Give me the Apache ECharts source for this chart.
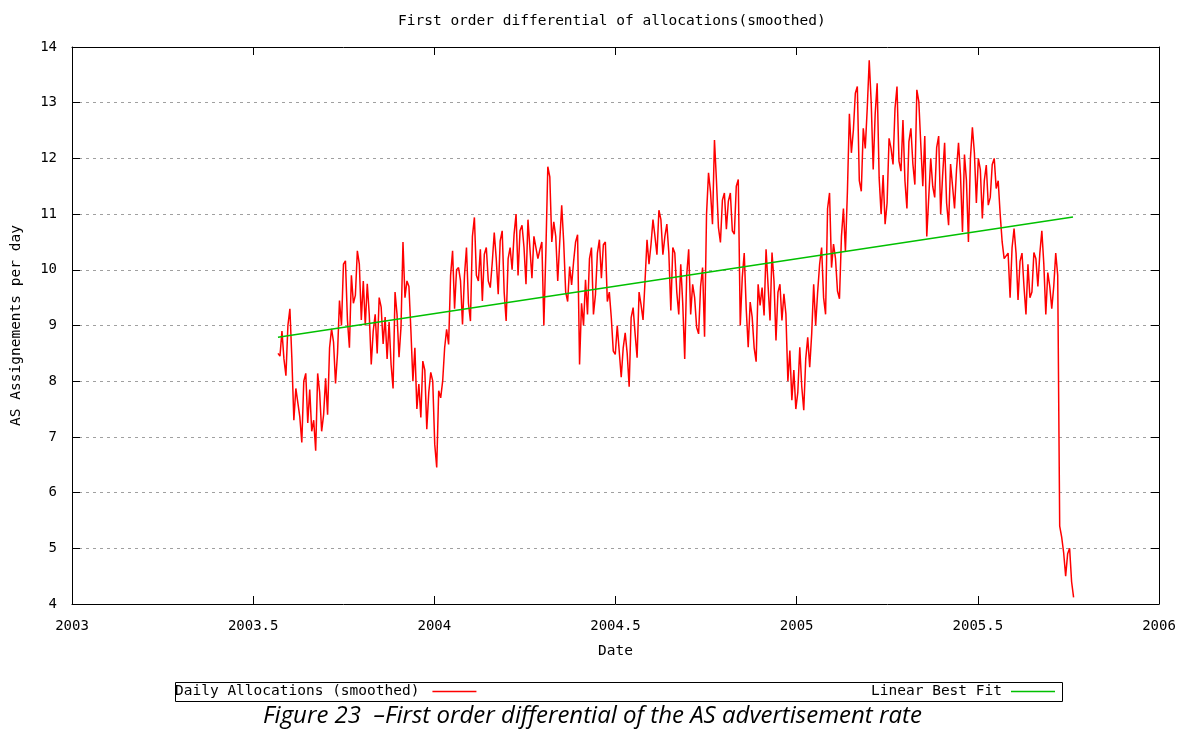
<!DOCTYPE html>
<html><head><meta charset="utf-8">
<script src="https://cdn.jsdelivr.net/npm/echarts@6/dist/echarts.min.js"></script>
<style>html,body{margin:0;padding:0;background:#fff}#c{width:1185px;height:732px}</style>
</head><body><div id="c"></div>
<script>
// ---- data ----
const titleText = 'First order differential of allocations(smoothed)';
const captionText = 'Figure 23  \u2013First order differential of the AS advertisement rate';
const seriesNames = ['Daily Allocations (smoothed)', 'Linear Best Fit'];
const xStart = 2003.5685;      // decimal year of first sample
const stepDays = 2;            // days between samples
const vals2003 = [8.5,8.45,8.9,8.4,8.1,9.0,9.3,8.4,7.3,7.87,7.9,7.36,6.9,8.0,8.14,7.25,7.85,7.1,7.3,6.75,
  8.14,7.8,7.1,7.4,8.05,7.4,8.6,8.94,8.7,7.96,8.5,9.45,9.0,10.1,10.16,9.1,8.6,9.9,9.4,9.54,
  10.34,10.1,9.1,9.8,9.0,9.75,9.2,8.3,8.9,9.2,8.5,9.5,9.33,8.67,9.15,8.4,9.06,8.3,7.87,9.6,
  9.2,8.43,8.97,10.5,9.5,9.8,9.7,8.9,8.0,8.6,7.5,7.95,7.35,8.36,8.2,7.14,7.8,8.16,8.0];
const vals2004 = [6.87,6.45,7.83,7.7,8.0,8.6,8.93,8.66,9.9,10.34,9.3,10.0,10.04,9.8,9.02,9.9,10.4,9.4,9.08,10.6,
  10.94,9.9,9.8,10.37,9.44,10.28,10.4,9.8,9.68,10.13,10.67,10.2,9.56,10.52,10.7,9.6,9.08,10.2,10.4,10.0,
  10.64,11.0,9.9,10.7,10.8,10.4,9.74,10.9,10.88,9.85,10.6,10.4,10.2,10.36,10.5,9.0,10.3,11.85,11.67,10.5,
  10.86,10.6,9.8,10.5,11.16,10.5,9.6,9.43,10.06,9.73,10.15,10.5,10.63,8.3,9.4,9.0,9.82,9.2,10.2,10.4,
  9.2,9.55,10.3,10.54,9.85,10.45,10.5,9.43,9.6,9.14,8.54,8.48,9.0,9.0,8.07,8.6,8.87,8.5,7.9,9.14,
  9.32,8.85,8.42,9.6,9.37,9.1,9.8,10.54,10.1,10.45,10.9,10.6,10.27,11.07,10.9,10.27,10.6,10.82,10.3,9.27,
  10.4,10.3,9.6,9.2,10.1,9.4,8.4,9.9,10.37,9.2,9.74,9.5,8.97,8.85,9.7,10.04,8.8,11.0,11.74,11.4,
  10.82,12.33,11.6,10.76,10.49,11.25,11.38,10.73,11.23,11.38,10.7,10.64,11.5,11.62,9.0,9.86,10.3,9.3,8.61,9.42,
  9.15,8.6,8.35,9.74,9.36,9.68,9.18,10.37,10.4,9.09,10.31,9.8,8.73,9.6,9.74,9.09,9.57,9.21,8.0,8.55,
  7.66,8.2,7.5];
const vals2005 = [7.8,8.61,7.9,7.48,8.4,8.79,8.25,8.85,9.74,9.0,9.6,10.1,10.4,9.5,9.2,11.1,11.38,10.04,10.46,10.2,
  9.62,9.48,10.6,11.1,10.33,11.4,12.8,12.1,12.5,13.17,13.29,11.6,11.41,12.54,12.18,12.9,13.76,13.0,11.8,12.8,
  13.35,11.65,11.0,11.7,10.82,11.2,12.36,12.18,11.89,12.9,13.29,11.95,11.77,12.69,11.6,11.1,12.3,12.54,11.9,11.53,
  13.23,13.02,12.24,11.5,12.4,10.6,11.3,12.0,11.5,11.3,12.2,12.4,11.0,11.7,12.28,11.2,10.8,11.9,11.5,11.1,
  11.8,12.28,11.7,10.68,12.07,11.6,10.5,12.0,12.56,12.1,11.2,12.0,11.8,10.92,11.6,11.88,11.16,11.3,11.89,12.0,
  11.46,11.6,11.0,10.5,10.2,10.2,10.3,9.5,10.4,10.74,10.3,9.46,10.15,10.3,9.7,9.2,10.1,9.5,9.6,10.31,
  10.2,9.7,10.3,10.7,10.1,9.2,9.95,9.7,9.3,9.7,10.3,9.9,5.4,5.2,4.92,4.5,4.9,5.0,4.4,4.12];
const fitX = [2003.5685, 2005.7627];
const fitY = [8.79, 10.95];
const xTickLabels = ['2003','2003.5','2004','2004.5','2005','2005.5','2006'];
const yTickLabels = ['4','5','6','7','8','9','10','11','12','13','14'];

// ---- build ----
const allVals = vals2003.concat(vals2004, vals2005);
const dayYear = stepDays / 365.25;
const lineData = allVals.map((v, i) => [xStart + i * dayYear, v]);
const fitData = fitX.map((x, i) => [x, fitY[i]]);

const mono = 'DejaVu Sans Mono';
const axisCommon = {
  type: 'value', axisLine: { show: true, lineStyle: { color: '#000', width: 1 } },
  axisTick: { show: true, inside: true, length: 8, lineStyle: { color: '#000' } },
  splitLine: { show: false }
};
const chart = echarts.init(document.getElementById('c'), null, { renderer: 'canvas' });
chart.setOption({
  animation: false,
  backgroundColor: '#fff',
  title: [
    { text: titleText, left: 393, top: 9, textStyle: { fontFamily: mono, fontSize: 14.5, fontWeight: 'normal', color: '#000' } },
    { text: captionText, left: 'center', top: 704, padding: 0, textStyle: { fontFamily: 'Open Sans', fontStyle: 'italic', fontSize: 24, fontWeight: 'normal', color: '#000' } }
  ],
  grid: { left: 72, right: 26, top: 47, bottom: 128, containLabel: false },
  xAxis: [
    Object.assign({}, axisCommon, {
      position: 'bottom', min: 2003, max: 2006, interval: 0.5,
      name: 'Date', nameLocation: 'middle', nameGap: 40,
      nameTextStyle: { fontFamily: mono, fontSize: 14.5, color: '#000' },
      axisLabel: { margin: 15, fontFamily: mono, fontSize: 14, color: '#000',
        formatter: v => xTickLabels[Math.round((v - 2003) / 0.5)] }
    }),
    Object.assign({}, axisCommon, {
      position: 'top', min: 2003, max: 2006, interval: 0.5, axisLabel: { show: false }
    })
  ],
  yAxis: [
    Object.assign({}, axisCommon, {
      position: 'left', min: 4, max: 14, interval: 1,
      name: 'AS Assignements per day', nameLocation: 'middle', nameGap: 48, nameRotate: 90,
      nameTextStyle: { fontFamily: mono, fontSize: 14.5, color: '#000' },
      axisLabel: { margin: 15, fontFamily: mono, fontSize: 14, color: '#000',
        formatter: v => yTickLabels[Math.round(v - 4)] },
      splitLine: { show: true, showMinLine: false, showMaxLine: false,
        lineStyle: { color: '#a0a0a0', type: [3, 4], width: 1 } }
    }),
    Object.assign({}, axisCommon, {
      position: 'right', min: 4, max: 14, interval: 1, axisLabel: { show: false }
    })
  ],
  legend: [
    { data: [seriesNames[0]], left: 175, top: 684, align: 'right', icon: 'rect', itemWidth: 44, itemHeight: 1.5,
      selectedMode: false, padding: 0, textStyle: { fontFamily: mono, fontSize: 14.5, color: '#000', padding: [0, 8, 0, 0] } },
    { data: [seriesNames[1]], right: 130, top: 684, align: 'right', icon: 'rect', itemWidth: 44, itemHeight: 1.5,
      selectedMode: false, padding: 0, textStyle: { fontFamily: mono, fontSize: 14.5, color: '#000', padding: [0, 4, 0, 0] } }
  ],
  graphic: [
    { type: 'rect', shape: { x: 175.5, y: 682.5, width: 887, height: 19 },
      style: { fill: 'none', stroke: '#000', lineWidth: 1 }, z: 10 }
  ],
  series: [
    { name: seriesNames[0], type: 'line', data: lineData, showSymbol: false, symbol: 'none',
      lineStyle: { color: '#ff0000', width: 1.5 }, itemStyle: { color: '#ff0000' }, z: 3 },
    { name: seriesNames[1], type: 'line', data: fitData, showSymbol: false, symbol: 'none',
      lineStyle: { color: '#00c000', width: 1.5 }, itemStyle: { color: '#00c000' }, z: 4 }
  ]
});
</script>
</body></html>
